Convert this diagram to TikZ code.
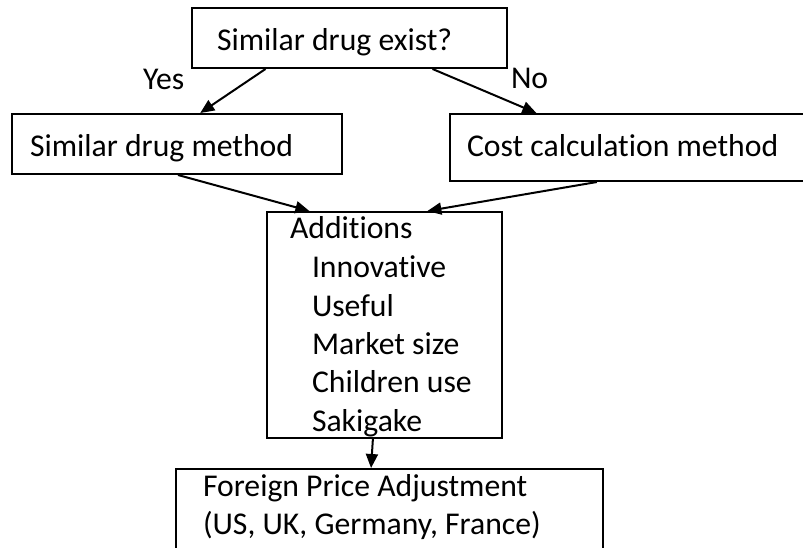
\documentclass[tikz,border=0pt]{standalone}
\usepackage{fontspec}
\setmainfont{Carlito}[Ligatures=NoCommon]
\newcommand{\nolig}{\kern0pt }
\usetikzlibrary{arrows.meta,calc}
\begin{document}
\begin{tikzpicture}[x=1pt,y=-1pt,
  every node/.style={font=\fontsize{31.7pt}{38.5pt}\selectfont},
  boxnode/.style={draw,line width=2pt,rectangle,inner sep=0pt},
  txt/.style={anchor=base west,inner sep=0pt,outer sep=0pt},
  conn/.style={line width=2pt,-{Triangle[length=14pt,width=12pt]}}]
\useasboundingbox (0,0) rectangle (803,548);
\clip (0,0) rectangle (803,548);
% boxes
\node[boxnode,minimum width=315pt,minimum height=60pt] (top) at (349.5,38) {};
\node[boxnode,minimum width=330pt,minimum height=60pt] (left) at (177,144) {};
\node[boxnode,minimum width=365pt,minimum height=67pt] (right) at (632.5,147.5) {};
\node[boxnode,minimum width=235pt,minimum height=226pt] (add) at (384.5,325) {};
\node[boxnode,minimum width=427pt,minimum height=110pt] (bot) at (389.5,524) {};
% texts
\node[txt] (ttop) at (217,51) {Similar drug exist?};
\node[txt] (yes) at (143,90) {Yes};
\node[txt] (no) at (511,89) {No};
\node[txt] (tleft) at (30,157) {Similar drug method};
\node[txt] (tright) at (467,157) {Cost calculat\nolig ion method};
\node[txt] (tadd) at (290,238) {Addit\nolig ions};
\node[txt] (i1) at (312,277) {Innovat\nolig ive};
\node[txt] (i2) at (312,316) {Useful};
\node[txt] (i3) at (312,354) {Market size};
\node[txt] (i4) at (312,392) {Children use};
\node[txt] (i5) at (312,431) {Sakigake};
\node[txt] (tb1) at (203,496) {Foreign Price Adjustment};
\node[txt] (tb2) at (203,534) {(US, UK, Germany, France)};
% connectors
\draw[conn] ($(top.south west)!0.235!(top.south east)$) -- ($(left.north west)!0.57!(left.north east)$);
\draw[conn] ($(top.south west)!0.762!(top.south east)$) -- ($(right.north west)!0.238!(right.north east)$);
\draw[conn] ($(left.south west)!0.503!(left.south east)$) -- ($(add.north west)!0.183!(add.north east)$);
\draw[conn] ($(right.south west)!0.403!(right.south east)$) -- ($(add.north west)!0.681!(add.north east)$);
\draw[conn] ($(add.south west)!0.451!(add.south east)$) -- ($(bot.north west)!0.457!(bot.north east)$);
\end{tikzpicture}
\end{document}
